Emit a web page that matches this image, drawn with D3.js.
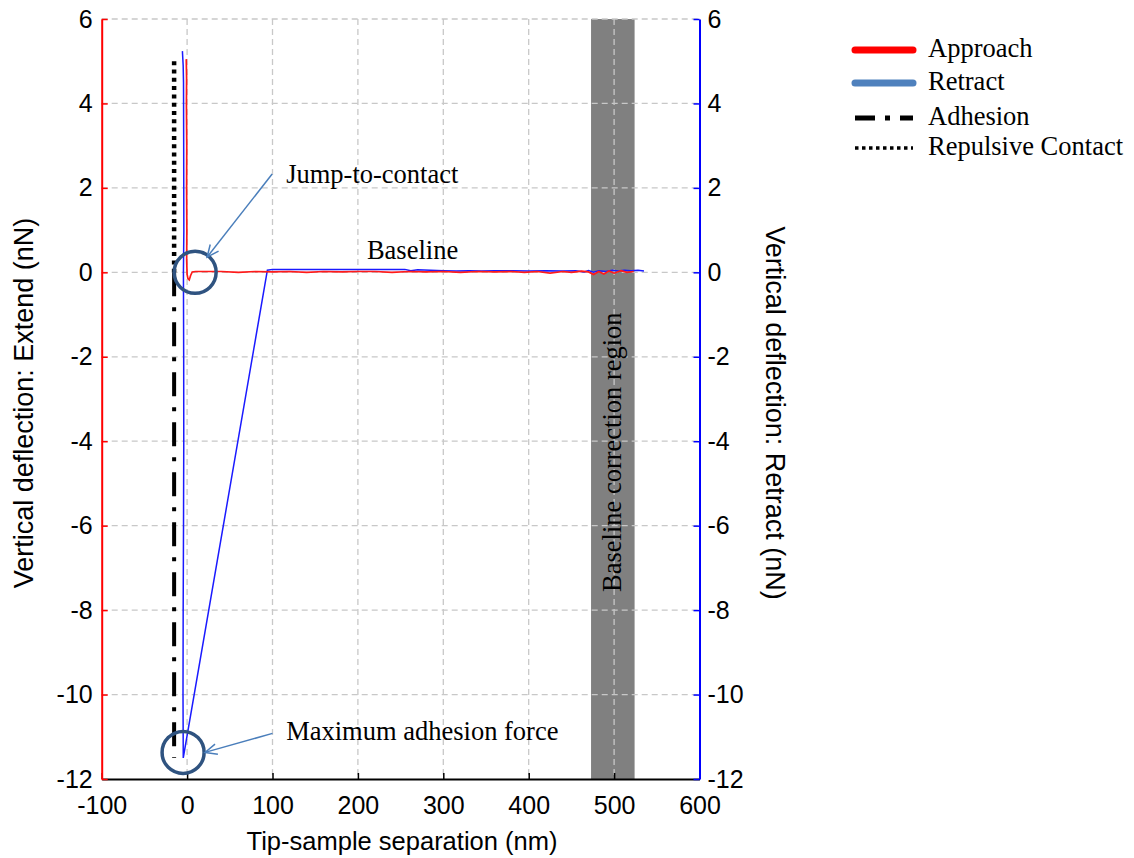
<!DOCTYPE html>
<html>
<head>
<meta charset="utf-8">
<script src="https://cdn.jsdelivr.net/npm/d3@7"></script>
<style>
  body { margin: 0; background: #fff; }
  svg { display: block; }
</style>
</head>
<body>
<svg id="chart" width="1134" height="858"></svg>
<script>
// ---- Force–distance curve data: separation (nm) vs vertical deflection (nN) ----
const approachX = [523, 515, 508, 500, 494, 488, 482, 476, 470, 462, 450, 440, 425, 410, 395, 380, 360, 340, 320, 300, 280, 260, 240, 220, 200, 180, 160, 140, 120, 100, 80, 60, 40, 20, 10, 6, 4, 2.5, 1, 0, -0.5, -0.3, -0.6, -0.4, -0.8, -0.6, -1];
const approachY = [0.02, 0.0, 0.04, -0.02, 0.03, -0.04, 0.02, -0.05, 0.01, 0.03, 0.0, 0.02, -0.02, 0.02, 0.0, 0.02, 0.01, 0.02, 0.0, 0.02, 0.01, 0.02, 0.0, 0.02, 0.02, 0.01, 0.02, 0.0, 0.02, 0.01, 0.02, 0.0, 0.02, 0.02, 0.02, 0.01, -0.08, -0.18, -0.15, -0.05, 0.3, 1.0, 2.0, 3.0, 4.0, 4.6, 5.05];

const retractX = [-5.5, -4.6, -4.2, -4.0, -3.8, -4.3, -4.0, -3.9, -4.2, -4.6, -4.8, -4.5, 94, 100, 120, 140, 160, 180, 200, 220, 240, 255, 262, 270, 285, 300, 315, 330, 345, 360, 380, 400, 420, 440, 455, 465, 470, 476, 482, 490, 498, 505, 512, 520, 528, 535];
const retractY = [5.24, 4.9, 4.5, 3.0, 1.0, 0.0, -2.0, -4.0, -6.0, -8.0, -10.0, -11.5, 0.05, 0.07, 0.07, 0.07, 0.07, 0.065, 0.07, 0.07, 0.065, 0.07, 0.04, 0.06, 0.05, 0.04, 0.03, 0.04, 0.03, 0.04, 0.04, 0.03, 0.04, 0.03, 0.04, 0.01, 0.04, 0.0, 0.04, 0.02, 0.05, 0.03, 0.05, 0.04, 0.05, 0.03];

// Reference markers
const repulsiveX = [-15.2, -15.2];
const repulsiveY = [5.0, 0.0];
const adhesionX = [-15.2, -15.2];
const adhesionY = [0.0, -11.5];

// Baseline correction window (nm)
const bandX = [473, 524];

// Axes
const xDomain = [-100, 600];
const yDomain = [-12, 6];
const xTicks = [-100, 0, 100, 200, 300, 400, 500, 600];
const yTicks = [-12, -10, -8, -6, -4, -2, 0, 2, 4, 6];
const xGrid = [0, 100, 200, 300, 400, 500];
const yGrid = [-10, -8, -6, -4, -2, 0, 2, 4, 6];

const xTitle = "Tip-sample separation (nm)";
const yLeftTitle = "Vertical deflection: Extend (nN)";
const yRightTitle = "Vertical deflection: Retract (nN)";
const bandLabel = "Baseline correction region";

const legendLabels = ["Approach", "Retract", "Adhesion", "Repulsive Contact"];

// Annotations (data units)
const circleLabels = ["Jump-to-contact", "Maximum adhesion force"];
const circleCentersX = [9.4, -4.7];
const circleCentersY = [0.0, -11.37];
const arrowFromX = [99.6, 100];
const arrowFromY = [2.33, -10.92];
const arrowToX = [23.4, 21];
const arrowToY = [0.36, -11.37];
const labelX = [116, 116];
const labelY = [2.12, -11.08];
const baselineLabel = "Baseline";
const baselineLabelX = 264;
const baselineLabelY = 0.32;

// ---- Drawing ----
const svg = d3.select("#chart");
const plotL = 101.7, plotR = 699.5, plotT = 19, plotB = 779;

const x = d3.scaleLinear().domain(xDomain).range([plotL, plotR]);
const y = d3.scaleLinear().domain(yDomain).range([plotB, plotT]);

const sansFont = "'Liberation Sans', Arial, sans-serif";
const serifFont = "'Liberation Serif', 'Times New Roman', serif";
const serifSize = 26.5;

// shaded band
svg.append("rect")
  .attr("x", x(bandX[0])).attr("y", y(yDomain[1]))
  .attr("width", x(bandX[1]) - x(bandX[0]))
  .attr("height", y(yDomain[0]) - y(yDomain[1]))
  .attr("fill", "#808080");

// dashed grid
const grid = svg.append("g").attr("stroke", "#c8c8c8").attr("stroke-width", 1.3).attr("stroke-dasharray", "6,4");
grid.selectAll("line.v").data(xGrid).join("line").attr("class", "v")
  .attr("x1", d => x(d)).attr("x2", d => x(d)).attr("y1", plotT).attr("y2", plotB);
grid.selectAll("line.h").data(yGrid).join("line").attr("class", "h")
  .attr("x1", plotL).attr("x2", plotR).attr("y1", d => y(d)).attr("y2", d => y(d));

// band label
svg.append("text")
  .attr("transform", `translate(${x((bandX[0] + bandX[1]) / 2) + 8},${y(-4.26)}) rotate(-90)`)
  .attr("text-anchor", "middle")
  .attr("font-family", serifFont).attr("font-size", serifSize)
  .attr("fill", "#000").text(bandLabel);

// axes
function styleAxis(g, color) {
  g.select(".domain").attr("stroke", color).attr("stroke-width", 2);
  g.selectAll(".tick line").attr("stroke", color).attr("stroke-width", 1.5);
  g.selectAll(".tick text").attr("fill", "#000").attr("font-family", sansFont).attr("font-size", 25);
}

const xAxis = svg.append("g").attr("transform", `translate(0,${plotB})`)
  .call(d3.axisBottom(x).tickValues(xTicks).tickSize(-6).tickSizeOuter(0).tickPadding(17).tickFormat(d => String(d)));
styleAxis(xAxis, "#000");

const yAxisL = svg.append("g").attr("transform", `translate(${plotL},0)`)
  .call(d3.axisLeft(y).tickValues(yTicks).tickSize(-6).tickSizeOuter(0).tickPadding(9).tickFormat(d => String(d)));
styleAxis(yAxisL, "#ff0000");

const yAxisR = svg.append("g").attr("transform", `translate(${plotR},0)`)
  .call(d3.axisRight(y).tickValues(yTicks).tickSize(-6).tickSizeOuter(0).tickPadding(8).tickFormat(d => String(d)));
styleAxis(yAxisR, "#0000ff");

// axis titles
svg.append("text").attr("x", 402).attr("y", 850).attr("text-anchor", "middle")
  .attr("font-family", sansFont).attr("font-size", 25.5).text(xTitle);
svg.append("text").attr("transform", "translate(33,403) rotate(-90)").attr("text-anchor", "middle")
  .attr("font-family", sansFont).attr("font-size", 27).text(yLeftTitle);
svg.append("text").attr("transform", "translate(766,413) rotate(90)").attr("text-anchor", "middle")
  .attr("font-family", sansFont).attr("font-size", 27).text(yRightTitle);

// curves
const line = d3.line().x(d => x(d[0])).y(d => y(d[1]));
const approach = approachX.map((v, i) => [v, approachY[i]]);
const retract = retractX.map((v, i) => [v, retractY[i]]);

svg.append("path").datum(retract).attr("d", line)
  .attr("fill", "none").attr("stroke", "#1a1aff").attr("stroke-width", 1.5);
svg.append("path").datum(approach).attr("d", line)
  .attr("fill", "none").attr("stroke", "#ff1a1a").attr("stroke-width", 1.7);

// contact / adhesion markers
svg.append("path").datum(repulsiveX.map((v, i) => [v, repulsiveY[i]])).attr("d", line)
  .attr("fill", "none").attr("stroke", "#000").attr("stroke-width", 4.5).attr("stroke-dasharray", "4,4.3");
svg.append("path").datum(adhesionX.map((v, i) => [v, adhesionY[i]])).attr("d", line)
  .attr("fill", "none").attr("stroke", "#000").attr("stroke-width", 4).attr("stroke-dasharray", "24,11,4,11");

// circles
circleCentersX.forEach((cx, i) => {
  svg.append("circle").attr("cx", x(cx)).attr("cy", y(circleCentersY[i])).attr("r", 21)
    .attr("fill", "none").attr("stroke", "#2f5380").attr("stroke-width", 3.5);
});

// arrows
const arrowColor = "#4a7ebb";
arrowFromX.forEach((fx, i) => {
  const x1 = x(fx), y1 = y(arrowFromY[i]), x2 = x(arrowToX[i]), y2 = y(arrowToY[i]);
  svg.append("line").attr("x1", x1).attr("y1", y1).attr("x2", x2).attr("y2", y2)
    .attr("stroke", arrowColor).attr("stroke-width", 1.5);
  const ang = Math.atan2(y2 - y1, x2 - x1);
  const len = 13, spread = 0.42;
  const p1 = [x2 - len * Math.cos(ang - spread), y2 - len * Math.sin(ang - spread)];
  const p2 = [x2 - len * Math.cos(ang + spread), y2 - len * Math.sin(ang + spread)];
  svg.append("path").attr("d", `M${p1[0]},${p1[1]}L${x2},${y2}L${p2[0]},${p2[1]}`)
    .attr("fill", "none").attr("stroke", arrowColor).attr("stroke-width", 1.5);
  svg.append("text").attr("x", x(labelX[i])).attr("y", y(labelY[i]))
    .attr("font-family", serifFont).attr("font-size", serifSize).attr("fill", "#000").text(circleLabels[i]);
});

svg.append("text").attr("x", x(baselineLabelX)).attr("y", y(baselineLabelY)).attr("text-anchor", "middle")
  .attr("font-family", serifFont).attr("font-size", serifSize).attr("fill", "#000").text(baselineLabel);

// legend
const legendStyles = [
  { color: "#ff0000", width: 7, dash: null, cap: "round" },
  { color: "#4f81bd", width: 7, dash: null, cap: "round" },
  { color: "#000", width: 5, dash: "20,10,5,10", cap: "butt" },
  { color: "#000", width: 3.5, dash: "3.5,3.5", cap: "butt" }
];
const legendY = [50, 83, 118, 148];
const lg = svg.append("g");
legendLabels.forEach((lab, i) => {
  const s = legendStyles[i];
  lg.append("line").attr("x1", 855).attr("x2", 913).attr("y1", legendY[i]).attr("y2", legendY[i])
    .attr("stroke", s.color).attr("stroke-width", s.width).attr("stroke-linecap", s.cap)
    .attr("stroke-dasharray", s.dash);
  lg.append("text").attr("x", 928).attr("y", legendY[i] + 7)
    .attr("font-family", serifFont).attr("font-size", serifSize).attr("fill", "#000").text(lab);
});
</script>
</body>
</html>
